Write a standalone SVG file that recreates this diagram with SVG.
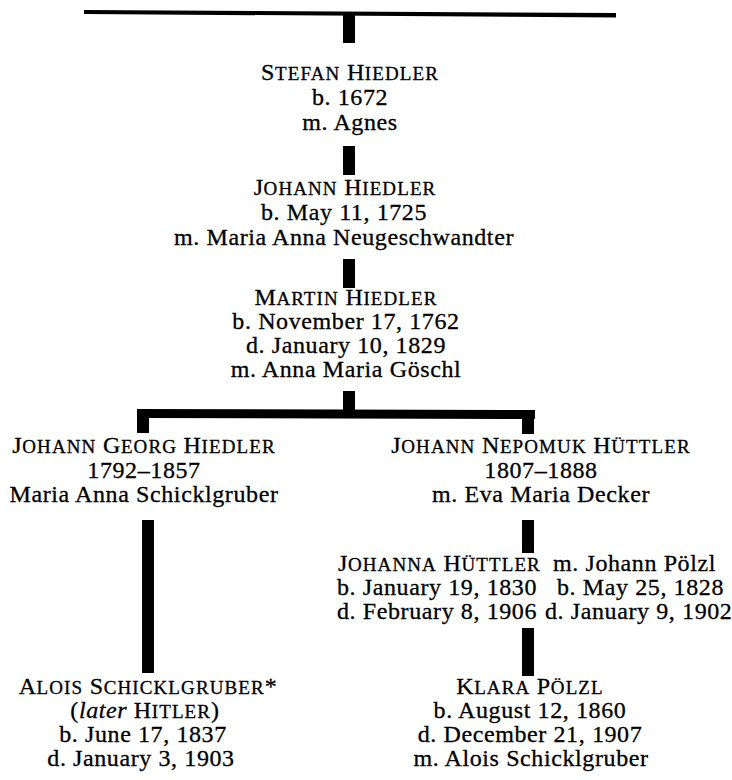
<svg xmlns="http://www.w3.org/2000/svg" width="732" height="780" viewBox="0 0 732 780">
<style>
text{font-family:"Liberation Serif","Times New Roman",serif;font-size:24px;letter-spacing:0.6px;fill:#000;stroke:#000;stroke-width:0.3px}
.m{text-anchor:middle}
.sc{font-size:19px;letter-spacing:1.1px}
.it{font-style:italic}
.bar{fill:#000}
</style>
<rect width="732" height="780" fill="#fff"/>
<g id="connectors">
<path d="M84 10 L616 13 L616 17.5 L84 14 Z" class="bar"/>
<rect x="343" y="13" width="12" height="30" class="bar"/>
<rect x="343" y="146" width="12" height="29" class="bar"/>
<rect x="343" y="259" width="12" height="29" class="bar"/>
<rect x="343" y="391" width="12" height="22" class="bar"/>
<path d="M137 409 L535 410 L535 419 L137 418 Z" class="bar"/>
<rect x="137" y="409" width="12" height="24" class="bar"/>
<rect x="522" y="410" width="12" height="24" class="bar"/>
<rect x="142" y="520" width="12" height="153" class="bar"/>
<rect x="522" y="520" width="12" height="33" class="bar"/>
<rect x="522" y="628" width="12" height="48" class="bar"/>
</g>
<g id="stefan">
<text class="m" x="350" y="80">S<tspan class="sc">TEFAN</tspan> H<tspan class="sc">IEDLER</tspan></text>
<text class="m" x="350" y="105">b. 1672</text>
<text class="m" x="350" y="130">m. Agnes</text>
</g>
<g id="johann">
<text class="m" x="345" y="195">J<tspan class="sc">OHANN</tspan> H<tspan class="sc">IEDLER</tspan></text>
<text class="m" x="344" y="220">b. May 11, 1725</text>
<text class="m" x="344" y="245">m. Maria Anna Neugeschwandter</text>
</g>
<g id="martin">
<text class="m" x="346" y="305">M<tspan class="sc">ARTIN</tspan> H<tspan class="sc">IEDLER</tspan></text>
<text class="m" x="346" y="329">b. November 17, 1762</text>
<text class="m" x="346" y="353">d. January 10, 1829</text>
<text class="m" x="346" y="377">m. Anna Maria Göschl</text>
</g>
<g id="johann-georg">
<text class="m" x="144" y="453">J<tspan class="sc">OHANN</tspan> G<tspan class="sc">EORG</tspan> H<tspan class="sc">IEDLER</tspan></text>
<text class="m" x="144" y="478">1792–1857</text>
<text class="m" x="144" y="502">Maria Anna Schicklgruber</text>
</g>
<g id="johann-nepomuk">
<text class="m" x="541" y="453">J<tspan class="sc">OHANN</tspan> N<tspan class="sc">EPOMUK</tspan> H<tspan class="sc">ÜTTLER</tspan></text>
<text class="m" x="541" y="478">1807–1888</text>
<text class="m" x="541" y="502">m. Eva Maria Decker</text>
</g>
<g id="johanna">
<text x="338" y="571">J<tspan class="sc">OHANNA</tspan> H<tspan class="sc">ÜTTLER</tspan></text>
<text x="337" y="595">b. January 19, 1830</text>
<text x="337" y="619">d. February 8, 1906</text>
</g>
<g id="johann-poelzl">
<text x="553" y="571">m. Johann Pölzl</text>
<text x="557" y="595">b. May 25, 1828</text>
<text x="545" y="619">d. January 9, 1902</text>
</g>
<g id="alois">
<text class="m" x="148" y="694">A<tspan class="sc">LOIS</tspan> S<tspan class="sc">CHICKLGRUBER</tspan>*</text>
<text class="m" x="145" y="718">(<tspan class="it">later</tspan> H<tspan class="sc">ITLER</tspan>)</text>
<text class="m" x="143" y="742">b. June 17, 1837</text>
<text class="m" x="141" y="766">d. January 3, 1903</text>
</g>
<g id="klara">
<text class="m" x="530" y="694">K<tspan class="sc">LARA</tspan> P<tspan class="sc">ÖLZL</tspan></text>
<text class="m" x="530" y="718">b. August 12, 1860</text>
<text class="m" x="530" y="742">d. December 21, 1907</text>
<text class="m" x="531" y="766">m. Alois Schicklgruber</text>
</g>
</svg>
